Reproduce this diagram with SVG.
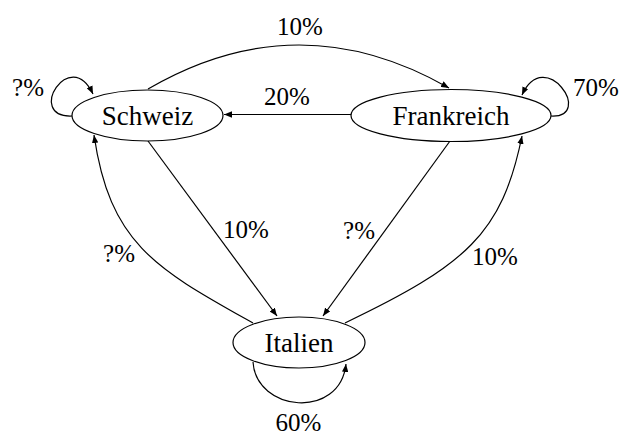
<svg xmlns="http://www.w3.org/2000/svg" width="621" height="435" viewBox="0 0 621 435">
  <style>
    .node ellipse { fill: #ffffff; stroke: #000000; stroke-width: 1.2; }
    .node text { font-family: "Liberation Serif", "DejaVu Serif", serif; font-size: 27px; fill: #000000; text-anchor: middle; }
    .edge { fill: none; stroke: #000000; stroke-width: 1.2; marker-end: url(#arrow); }
    .lbl { font-family: "Liberation Serif", "DejaVu Serif", serif; font-size: 25px; fill: #000000; text-anchor: middle; }
  </style>
  <defs>
    <marker id="arrow" viewBox="0 0 10 8" refX="10" refY="4" markerWidth="8" markerHeight="6.4" orient="auto" markerUnits="userSpaceOnUse">
      <path d="M0,0 L10,4 L0,8 Z" fill="#000000"/>
    </marker>
  </defs>
  <rect width="621" height="435" fill="#ffffff"/>

  <!-- transitions between the three countries -->
  <g id="connectors">
    <!-- Schweiz -> Frankreich (upper arc) -->
    <path class="edge" d="M148,89 Q298,1.5 449,88"/>
    <!-- Frankreich -> Schweiz -->
    <path class="edge" d="M351,114.5 L224,114.5"/>
    <!-- Schweiz -> Italien -->
    <path class="edge" d="M148,141 L277,316"/>
    <!-- Frankreich -> Italien -->
    <path class="edge" d="M450,141 L323,316"/>
    <!-- Italien -> Schweiz (bent) -->
    <path class="edge" d="M253,323 C157,269 110,245 94,135"/>
    <!-- Italien -> Frankreich (bent) -->
    <path class="edge" d="M345,323 C466,265 502,234 522,136"/>
    <!-- self loops -->
    <path class="edge" d="M72,116 C25,118 70,45 93,94"/>
    <path class="edge" d="M551,116 C595,118 545,45 522,95"/>
    <path class="edge" d="M253,362 C256,412 340,420 346,364"/>
  </g>

  <!-- transition probabilities -->
  <g id="labels">
    <text class="lbl" x="300" y="35">10%</text>
    <text class="lbl" x="287" y="105">20%</text>
    <text class="lbl" x="28" y="96">?%</text>
    <text class="lbl" x="596" y="96">70%</text>
    <text class="lbl" x="246" y="238">10%</text>
    <text class="lbl" x="359" y="239">?%</text>
    <text class="lbl" x="119" y="262">?%</text>
    <text class="lbl" x="495" y="265">10%</text>
    <text class="lbl" x="298.5" y="431">60%</text>
  </g>

  <g id="schweiz" class="node">
    <ellipse cx="147.5" cy="115.5" rx="75.5" ry="25.5"/>
    <text x="147.5" y="125">Schweiz</text>
  </g>
  <g id="frankreich" class="node">
    <ellipse cx="451" cy="115.5" rx="100" ry="26"/>
    <text x="451" y="125">Frankreich</text>
  </g>
  <g id="italien" class="node">
    <ellipse cx="299" cy="342.5" rx="66" ry="25.5"/>
    <text x="299" y="352">Italien</text>
  </g>
</svg>
